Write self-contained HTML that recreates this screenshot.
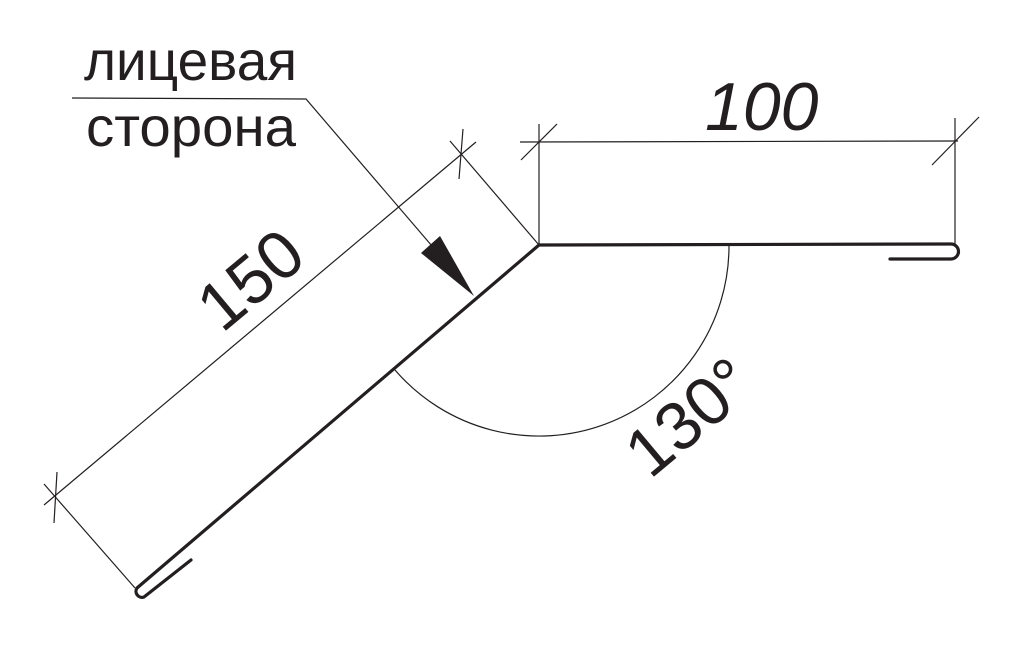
<!DOCTYPE html>
<html><head><meta charset="utf-8"><style>
html,body{margin:0;padding:0;background:#fff;width:1024px;height:650px;overflow:hidden}
svg{display:block}
text{font-family:"Liberation Sans","DejaVu Sans",sans-serif;fill:#231f20}
</style></head><body>
<svg width="1024" height="650" viewBox="0 0 1024 650" xmlns="http://www.w3.org/2000/svg">
<g stroke="#231f20" fill="none" stroke-width="1.2">
<polyline points="72,98 306,99 432,246"/>
<line x1="44" y1="505" x2="476" y2="142"/>
<line x1="450" y1="141" x2="539" y2="245"/>
<line x1="44" y1="484" x2="135" y2="588"/>
<line x1="463" y1="129" x2="459" y2="179"/>
<line x1="57" y1="472" x2="54" y2="523"/>
<line x1="520" y1="142" x2="958" y2="141"/>
<line x1="539" y1="124" x2="539" y2="245"/>
<line x1="955" y1="118" x2="955" y2="244"/>
<line x1="521" y1="160" x2="557" y2="124"/>
<line x1="932" y1="165" x2="979" y2="117"/>
<path d="M729,246 A190,190 0 0 1 395,370"/>
</g>
<g stroke="#231f20" fill="none" stroke-width="3.2" stroke-linecap="round" stroke-linejoin="round">
<path d="M890,259 L951,259 A7.5,7.5 0 0 0 951,244 L539,245 L137,588 A6,6 0 0 0 144,597 L191,560"/>
</g>
<polygon points="421,253 440,236 474,296" fill="#231f20"/>
<text x="84" y="80" font-size="56" textLength="213" lengthAdjust="spacingAndGlyphs">лицевая</text>
<text x="86" y="146" font-size="56" textLength="210" lengthAdjust="spacingAndGlyphs">сторона</text>
<text x="705" y="130" font-size="68" font-style="italic">100</text>
<text x="0" y="0" font-size="68" transform="translate(222,334) rotate(-40)">150</text>
<text x="0" y="0" font-size="68" transform="translate(650,480) rotate(-40)">130°</text>
</svg>
</body></html>
